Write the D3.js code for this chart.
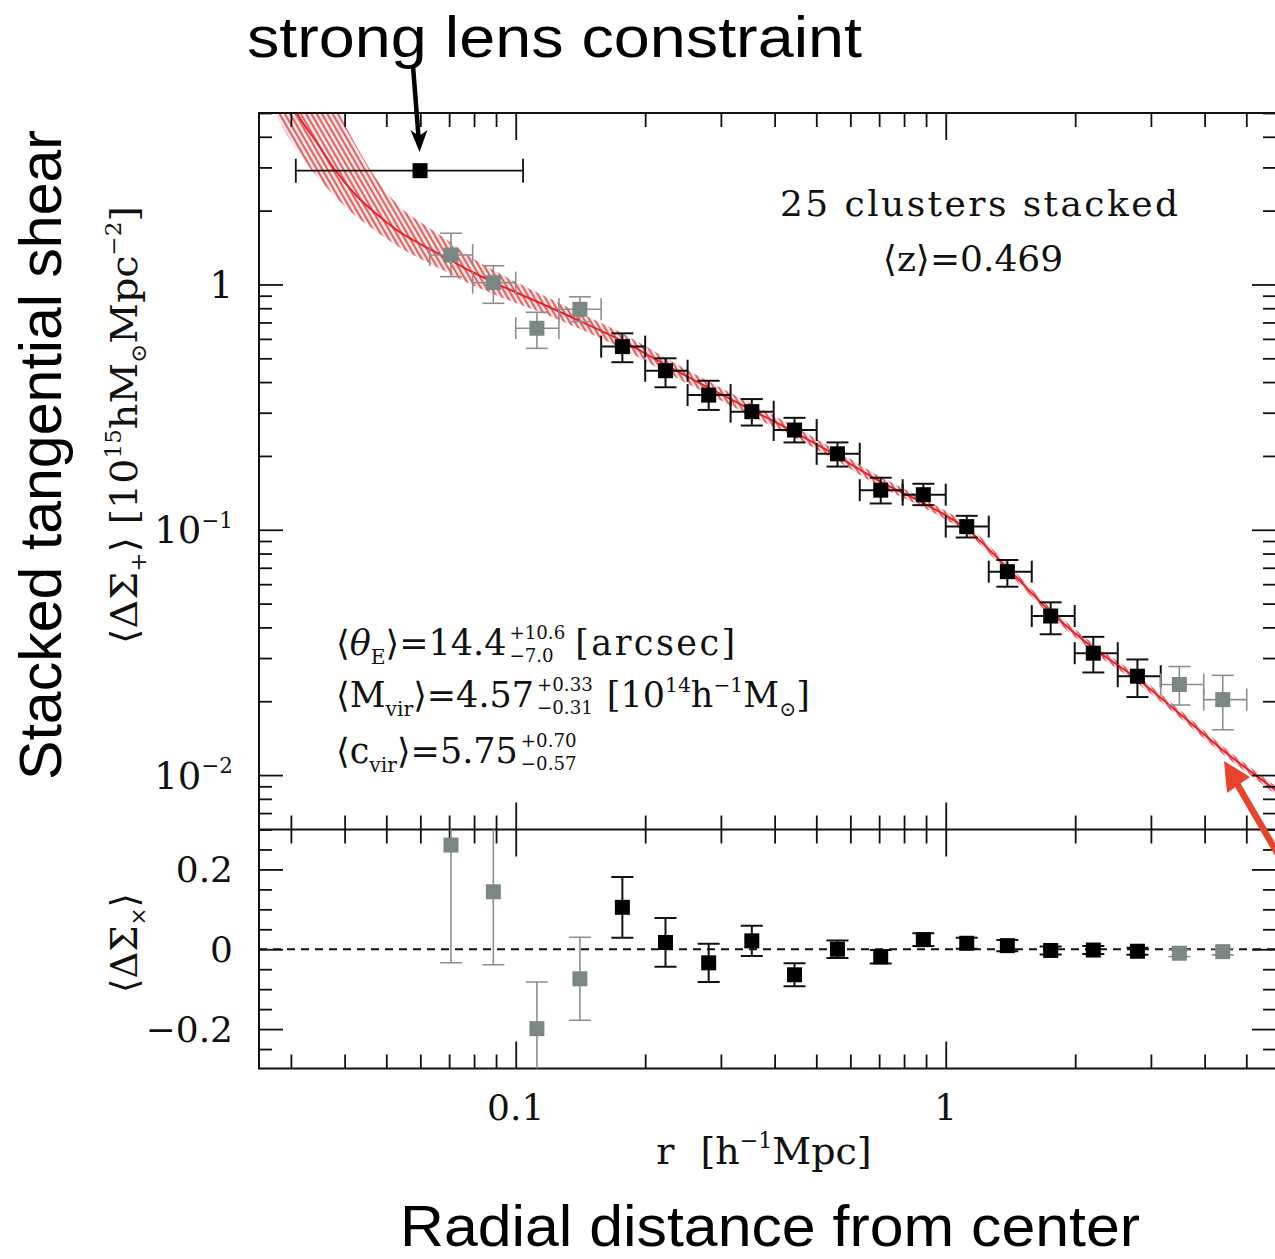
<!DOCTYPE html>
<html>
<head>
<meta charset="utf-8">
<script src="https://cdn.jsdelivr.net/npm/d3@7"></script>
<style>
  html, body { margin: 0; padding: 0; background: #fff; }
  svg { display: block; }
</style>
</head>
<body>
<svg id="chart" width="1275" height="1259"></svg>
<script>
// ---- stacked weak-lensing profile (25 clusters) ----
// radial bins [h^-1 Mpc]
const rMid = [0.0707, 0.0887, 0.112, 0.141, 0.177, 0.223, 0.281, 0.354, 0.445, 0.560,
              0.706, 0.887, 1.119, 1.391, 1.754, 2.204, 2.791, 3.494, 4.408];
const rLo  = [0.0631, 0.0794, 0.100, 0.126, 0.158, 0.200, 0.251, 0.316, 0.398, 0.501,
              0.631, 0.794, 1.000, 1.259, 1.585, 1.995, 2.512, 3.162, 3.981];
const rHi  = [0.0794, 0.100, 0.126, 0.158, 0.200, 0.251, 0.316, 0.398, 0.501, 0.631,
              0.794, 1.000, 1.259, 1.585, 1.995, 2.512, 3.162, 3.981, 5.012];

// tangential component <ΔΣ+> [10^15 h Msun Mpc^-2] and its 1σ range
const shearT   = [1.318, 1.017, 0.663, 0.792, 0.558, 0.445, 0.354, 0.303, 0.255, 0.204,
                  0.145, 0.139, 0.103, 0.0675, 0.0445, 0.0314, 0.0253, 0.0234, 0.0203];
const shearTLo = [1.076, 0.838, 0.549, 0.705, 0.482, 0.381, 0.308, 0.266, 0.227, 0.181,
                  0.128, 0.126, 0.093, 0.0586, 0.0375, 0.0262, 0.0208, 0.0193, 0.0153];
const shearTHi = [1.617, 1.192, 0.770, 0.891, 0.632, 0.500, 0.405, 0.341, 0.286, 0.227,
                  0.163, 0.154, 0.114, 0.0753, 0.0506, 0.0366, 0.0296, 0.0277, 0.0255];

// cross component <ΔΣx> and its error
const shearX    = [0.261, 0.144, -0.199, -0.074, 0.105, 0.017, -0.034, 0.021, -0.064, 0.000,
                   -0.019, 0.024, 0.015, 0.009, -0.003, -0.002, -0.005, -0.010, -0.006];
const shearXErr = [0.295, 0.183, 0.117, 0.104, 0.076, 0.061, 0.048, 0.038, 0.029, 0.022,
                   0.017, 0.016, 0.014, 0.014, 0.010, 0.010, 0.009, 0.008, 0.008];

// bins entering the fit (black) vs. excluded bins (grey)
const usedInFit = [false, false, false, false, true, true, true, true, true, true,
                   true, true, true, true, true, true, true, false, false];

// strong-lensing (Einstein radius) constraint
const lensR = 0.0599, lensRLo = 0.0308, lensRHi = 0.104, lensShear = 2.91;

// best-fit NFW profile and its confidence band
const modelR  = [0.02713, 0.02986, 0.03099, 0.03456, 0.03800, 0.04245, 0.04725, 0.05354, 0.06065, 0.06876,
                 0.07926, 0.08855, 0.1139, 0.1411, 0.1767, 0.2233, 0.2811, 0.3538, 0.4445, 0.5596,
                 0.7061, 0.8870, 1.119, 1.391, 1.754, 2.204, 2.791, 3.506, 4.462, 5.834, 6.2];
const modelV  = [8.226, 5.703, 5.000, 3.763, 2.928, 2.316, 1.950, 1.641, 1.448, 1.288,
                 1.124, 1.023, 0.8403, 0.7095, 0.5884, 0.4694, 0.3785, 0.3078, 0.2503, 0.1998,
                 0.1566, 0.1285, 0.1007, 0.06985, 0.04622, 0.03296, 0.02464, 0.01774, 0.01242, 0.00869, 0.00799];
const modelHi = [16.41, 11.91, 10.59, 7.421, 5.364, 3.713, 2.716, 2.091, 1.774, 1.534,
                 1.281, 1.145, 0.9151, 0.7655, 0.6320, 0.5018, 0.4023, 0.3257, 0.2636, 0.2094,
                 0.1641, 0.1340, 0.1048, 0.07251, 0.04798, 0.03421, 0.02558, 0.01841, 0.01289, 0.00902, 0.00829];
const modelLo = [5.335, 3.890, 3.531, 2.739, 2.284, 1.900, 1.653, 1.423, 1.261, 1.130,
                 0.9947, 0.9142, 0.7716, 0.6576, 0.5478, 0.4391, 0.3561, 0.2909, 0.2377, 0.1907,
                 0.1494, 0.1232, 0.0967, 0.06729, 0.04453, 0.03175, 0.02374, 0.01709, 0.01197, 0.00837, 0.00770];

// axis ticks and labels
const xMajor = [0.1, 1];
const xTickLabels = ["0.1", "1"];
const yTopMajor = [1, 0.1, 0.01];
const yTopLabels = [["1", ""], ["10", "−1"], ["10", "−2"]];
const yBotMajor = [0.2, 0, -0.2];
const yBotLabels = ["0.2", "0", "−0.2"];

// ---- layout ----
const SERIF = "'DejaVu Serif', 'Liberation Serif', serif";
const SANS = "'Liberation Sans', Arial, 'Noto Sans', sans-serif";
const INK = "#111";
const GREY_PT = "#7b8784";
const GREY_BAR = "#8e8e8e";
const RED = "#e3262e";

const L = 259, R = 1276, T = 113, M = 829.5, B = 1068.5;
const svg = d3.select("#chart");

const x  = d3.scaleLog().domain([0.02529, 5.862]).range([L, R]);
const yT = d3.scaleLog().domain([0.006, 5]).range([M, T]);
const yX = d3.scaleLinear().domain([-0.3, 0.3]).range([B + 0.5, M]);

const defs = svg.append("defs");
defs.append("clipPath").attr("id", "clipTop")
  .append("rect").attr("x", L).attr("y", T).attr("width", R - L).attr("height", M - T);
defs.append("clipPath").attr("id", "clipBot")
  .append("rect").attr("x", L).attr("y", M).attr("width", R - L).attr("height", B - M);

const hatch = defs.append("pattern").attr("id", "hatch")
  .attr("patternUnits", "userSpaceOnUse").attr("width", 4.6).attr("height", 10)
  .attr("patternTransform", "rotate(-30)");
hatch.append("rect").attr("width", 4.6).attr("height", 10).attr("fill", "rgba(240,140,140,0.14)");
hatch.append("line").attr("x1", 1.2).attr("y1", 0).attr("x2", 1.2).attr("y2", 10)
  .attr("stroke", "rgba(224,58,58,0.9)").attr("stroke-width", 1.9);

// ---- model band and curve ----
const bandLayer = svg.append("g").attr("clip-path", "url(#clipTop)");
const modelIdx = d3.range(modelR.length);
bandLayer.append("path")
  .attr("d", d3.area()
    .x(i => x(modelR[i])).y0(i => yT(modelLo[i])).y1(i => yT(modelHi[i]))
    .curve(d3.curveMonotoneX)(modelIdx))
  .attr("fill", "url(#hatch)");
bandLayer.append("path")
  .attr("d", d3.line().x(i => x(modelR[i])).y(i => yT(modelV[i])).curve(d3.curveMonotoneX)(modelIdx))
  .attr("fill", "none").attr("stroke", RED).attr("stroke-width", 2);

// ---- axes (tick marks from d3 axis generators) ----
const xMinor = x.ticks().filter(v => !xMajor.some(m => Math.abs(m - v) < 1e-9));
const yTMinor = yT.ticks().filter(v => !yTopMajor.some(m => Math.abs(m - v) < 1e-12));
const yXMinor = yX.ticks(12).filter(v => Math.abs(v) < 0.29 && !yBotMajor.some(m => Math.abs(m - v) < 1e-9));

function tickAxis(gen, vals, size, tr) {
  const g = svg.append("g").attr("transform", tr)
    .call(gen.tickValues(vals).tickSize(size).tickFormat(""));
  g.select(".domain").remove();
  g.selectAll("line").attr("stroke", INK).attr("stroke-width", 1.8);
  return g;
}
// top edge, ticks into the upper panel
tickAxis(d3.axisBottom(x), xMinor, 14, `translate(0,${T})`);
tickAxis(d3.axisBottom(x), xMajor, 27, `translate(0,${T})`);
// shared edge between panels, ticks on both sides
tickAxis(d3.axisTop(x), xMinor, 14, `translate(0,${M})`);
tickAxis(d3.axisTop(x), xMajor, 27, `translate(0,${M})`);
tickAxis(d3.axisBottom(x), xMinor, 14, `translate(0,${M})`);
tickAxis(d3.axisBottom(x), xMajor, 27, `translate(0,${M})`);
// bottom edge
tickAxis(d3.axisTop(x), xMinor, 14, `translate(0,${B})`);
tickAxis(d3.axisTop(x), xMajor, 27, `translate(0,${B})`);
// left / right, upper panel
tickAxis(d3.axisRight(yT), yTMinor, 13, `translate(${L},0)`);
tickAxis(d3.axisRight(yT), yTopMajor, 24, `translate(${L},0)`);
tickAxis(d3.axisLeft(yT), yTMinor, 13, `translate(${R},0)`);
tickAxis(d3.axisLeft(yT), yTopMajor, 24, `translate(${R},0)`);
// left / right, lower panel
tickAxis(d3.axisRight(yX), yXMinor, 13, `translate(${L},0)`);
tickAxis(d3.axisRight(yX), yBotMajor, 24, `translate(${L},0)`);
tickAxis(d3.axisLeft(yX), yXMinor, 13, `translate(${R},0)`);
tickAxis(d3.axisLeft(yX), yBotMajor, 24, `translate(${R},0)`);

// frame
svg.append("rect").attr("x", L).attr("y", T).attr("width", R - L).attr("height", B - T)
  .attr("fill", "none").attr("stroke", INK).attr("stroke-width", 2);
svg.append("line").attr("x1", L).attr("x2", R).attr("y1", M).attr("y2", M)
  .attr("stroke", INK).attr("stroke-width", 2);

// ---- upper panel data ----
const CAP = 11, SQ = 15;
const pts = d3.range(rMid.length);
const upper = svg.append("g").attr("clip-path", "url(#clipTop)");
pts.forEach(i => {
  const col = usedInFit[i] ? INK : GREY_BAR;
  const w = usedInFit[i] ? 2 : 1.6;
  const cx = x(rMid[i]), cy = yT(shearT[i]);
  const g = upper.append("g").attr("stroke", col).attr("stroke-width", w);
  // vertical error
  g.append("line").attr("x1", cx).attr("x2", cx).attr("y1", yT(shearTHi[i])).attr("y2", yT(shearTLo[i]));
  g.append("line").attr("x1", cx - CAP).attr("x2", cx + CAP).attr("y1", yT(shearTHi[i])).attr("y2", yT(shearTHi[i]));
  g.append("line").attr("x1", cx - CAP).attr("x2", cx + CAP).attr("y1", yT(shearTLo[i])).attr("y2", yT(shearTLo[i]));
  // bin width
  g.append("line").attr("x1", x(rLo[i])).attr("x2", x(rHi[i])).attr("y1", cy).attr("y2", cy);
  g.append("line").attr("x1", x(rLo[i])).attr("x2", x(rLo[i])).attr("y1", cy - CAP).attr("y2", cy + CAP);
  g.append("line").attr("x1", x(rHi[i])).attr("x2", x(rHi[i])).attr("y1", cy - CAP).attr("y2", cy + CAP);
});
pts.forEach(i => {
  upper.append("rect")
    .attr("x", x(rMid[i]) - SQ / 2).attr("y", yT(shearT[i]) - SQ / 2)
    .attr("width", SQ).attr("height", SQ)
    .attr("fill", usedInFit[i] ? "#000" : GREY_PT);
});
// strong-lens point
{
  const cx = x(lensR), cy = yT(lensShear);
  const g = upper.append("g").attr("stroke", INK).attr("stroke-width", 1.8);
  g.append("line").attr("x1", x(lensRLo)).attr("x2", x(lensRHi)).attr("y1", cy).attr("y2", cy);
  g.append("line").attr("x1", x(lensRLo)).attr("x2", x(lensRLo)).attr("y1", cy - 12).attr("y2", cy + 12);
  g.append("line").attr("x1", x(lensRHi)).attr("x2", x(lensRHi)).attr("y1", cy - 12).attr("y2", cy + 12);
  upper.append("rect").attr("x", cx - 7.5).attr("y", cy - 7.5).attr("width", 15).attr("height", 15).attr("fill", "#000");
}

// ---- lower panel data ----
const lower = svg.append("g").attr("clip-path", "url(#clipBot)");
lower.append("line").attr("x1", L).attr("x2", R).attr("y1", yX(0)).attr("y2", yX(0))
  .attr("stroke", INK).attr("stroke-width", 2).attr("stroke-dasharray", "8,6");
pts.forEach(i => {
  const col = usedInFit[i] ? INK : GREY_BAR;
  const w = usedInFit[i] ? 2 : 1.6;
  const cx = x(rMid[i]);
  const hi = yX(shearX[i] + shearXErr[i]), lo = yX(shearX[i] - shearXErr[i]);
  const g = lower.append("g").attr("stroke", col).attr("stroke-width", w);
  g.append("line").attr("x1", cx).attr("x2", cx).attr("y1", hi).attr("y2", lo);
  g.append("line").attr("x1", cx - CAP).attr("x2", cx + CAP).attr("y1", hi).attr("y2", hi);
  g.append("line").attr("x1", cx - CAP).attr("x2", cx + CAP).attr("y1", lo).attr("y2", lo);
});
pts.forEach(i => {
  lower.append("rect")
    .attr("x", x(rMid[i]) - SQ / 2).attr("y", yX(shearX[i]) - SQ / 2)
    .attr("width", SQ).attr("height", SQ)
    .attr("fill", usedInFit[i] ? "#000" : GREY_PT);
});

// ---- text helpers ----
function putText(g, str, px, py, fs, italic, len) {
  const t = g.append("text").attr("x", px).attr("y", py)
    .attr("font-family", SERIF).attr("font-size", fs).attr("fill", INK).text(str);
  if (italic) t.attr("font-style", "italic");
  if (len) { t.attr("textLength", len).attr("lengthAdjust", "spacing"); return len; }
  return t.node().getComputedTextLength();
}
// superscript stacked over a subscript
function putStack(g, sup, sub, px, py, fs) {
  const a = putText(g, sup, px, py - fs * 0.86, fs);
  const b = putText(g, sub, px, py + fs * 0.36, fs);
  return Math.max(a, b);
}
// lays out a run of text with sub/superscripts; returns its width
function mathText(g, x0, y0, pieces, size) {
  let cx = x0;
  const s = size * 0.58;
  pieces.forEach(p => {
    if (p.t !== undefined) {
      cx += putText(g, p.t, cx, y0, size, p.i, p.len);
    } else if (p.sup !== undefined && p.sub !== undefined) {
      cx += putStack(g, p.sup, p.sub, cx, y0, size * 0.52);
    } else if (p.sup !== undefined) {
      cx += putText(g, p.sup, cx, y0 - size * 0.42, s);
    } else if (p.sub !== undefined) {
      cx += putText(g, p.sub, cx, y0 + size * 0.25, s);
    }
    if (p.gap) cx += p.gap;
  });
  return cx - x0;
}

// tick labels
xMajor.forEach((v, k) => {
  svg.append("text").attr("x", x(v)).attr("y", 1120).attr("text-anchor", "middle")
    .attr("font-family", SERIF).attr("font-size", 36).attr("fill", INK).text(xTickLabels[k]);
});
yTopMajor.forEach((v, k) => {
  const g = svg.append("g");
  const pieces = [{ t: yTopLabels[k][0] }];
  if (yTopLabels[k][1]) pieces.push({ sup: yTopLabels[k][1] });
  const w = mathText(g, 0, 0, pieces, 37);
  g.attr("transform", `translate(${233 - w},${yT(v) + 13.5})`);
});
yBotMajor.forEach((v, k) => {
  svg.append("text").attr("x", 233).attr("y", yX(v) + 13).attr("text-anchor", "end")
    .attr("font-family", SERIF).attr("font-size", 36).attr("fill", INK).text(yBotLabels[k]);
});

// axis titles
{
  const g = svg.append("g").attr("transform", "translate(137,425) rotate(-90)");
  const inner = g.append("g");
  const w = mathText(inner, 0, 0, [
    { t: "⟨ΔΣ" }, { sub: "+" }, { t: "⟩ [10" }, { sup: "15" }, { t: "hM" }, { sub: "⊙" },
    { t: "Mpc" }, { sup: "−2" }, { t: "]" }], 37);
  inner.attr("transform", `translate(${-438 / 2},0) scale(${438 / w},1)`);
}
{
  const g = svg.append("g").attr("transform", "translate(137,943) rotate(-90)");
  const inner = g.append("g");
  const w = mathText(inner, 0, 0, [{ t: "⟨ΔΣ" }, { sub: "×" }, { t: "⟩" }], 37);
  inner.attr("transform", `translate(${-w / 2},0)`);
}
{
  const g = svg.append("g");
  const w = mathText(g, 0, 0, [{ t: "r", gap: 26 }, { t: "[h" }, { sup: "−1" }, { t: "Mpc]" }], 38);
  g.attr("transform", `translate(${764 - w / 2},1164)`);
}

// annotations inside the plot
svg.append("text").attr("x", 979).attr("y", 216).attr("text-anchor", "middle")
  .attr("font-family", SERIF).attr("font-size", 36).attr("fill", INK)
  .attr("textLength", 398).attr("lengthAdjust", "spacing").text("25 clusters stacked");
svg.append("text").attr("x", 973).attr("y", 271).attr("text-anchor", "middle")
  .attr("font-family", SERIF).attr("font-size", 36).attr("fill", INK).text("⟨z⟩=0.469");

mathText(svg.append("g"), 336, 655, [
  { t: "⟨" }, { t: "θ", i: true }, { sub: "E" }, { t: "⟩=14.4", gap: 3 },
  { sup: "+10.6", sub: "−7.0", gap: 10 }, { t: "[arcsec]", len: 160 }], 35);
mathText(svg.append("g"), 336, 707, [
  { t: "⟨M" }, { sub: "vir" }, { t: "⟩=4.57", gap: 3 }, { sup: "+0.33", sub: "−0.31", gap: 14 },
  { t: "[10" }, { sup: "14" }, { t: "h" }, { sup: "−1" }, { t: "M" }, { sub: "⊙" }, { t: "]" }], 35);
mathText(svg.append("g"), 336, 763, [
  { t: "⟨c" }, { sub: "vir" }, { t: "⟩=5.75", gap: 3 }, { sup: "+0.70", sub: "−0.57" }], 35);

// large captions
svg.append("text").attr("x", 247).attr("y", 57)
  .attr("font-family", SANS).attr("font-size", 58).attr("fill", "#000")
  .attr("textLength", 615).attr("lengthAdjust", "spacingAndGlyphs").text("strong lens constraint");
svg.append("text").attr("transform", "translate(61,455) rotate(-90)").attr("text-anchor", "middle")
  .attr("font-family", SANS).attr("font-size", 59).attr("fill", "#000")
  .attr("textLength", 650).attr("lengthAdjust", "spacingAndGlyphs").text("Stacked tangential shear");
svg.append("text").attr("x", 770).attr("y", 1246).attr("text-anchor", "middle")
  .attr("font-family", SANS).attr("font-size", 57).attr("fill", "#000")
  .attr("textLength", 740).attr("lengthAdjust", "spacingAndGlyphs").text("Radial distance from center");

// pointer to the strong-lens point
svg.append("line").attr("x1", 413).attr("y1", 66).attr("x2", 418.6).attr("y2", 138)
  .attr("stroke", "#000").attr("stroke-width", 4.5);
svg.append("path").attr("d", "M410.5,130 L419,136 L427.5,130 L419.5,152 Z").attr("fill", "#000");

// pointer to the model curve
svg.append("line").attr("x1", 1236).attr("y1", 782).attr("x2", 1290).attr("y2", 875)
  .attr("stroke", "#e8432f").attr("stroke-width", 6.5);
svg.append("path").attr("d", "M1224,761 L1250,777 L1227,793 Z").attr("fill", "#e8432f");
</script>
</body>
</html>
